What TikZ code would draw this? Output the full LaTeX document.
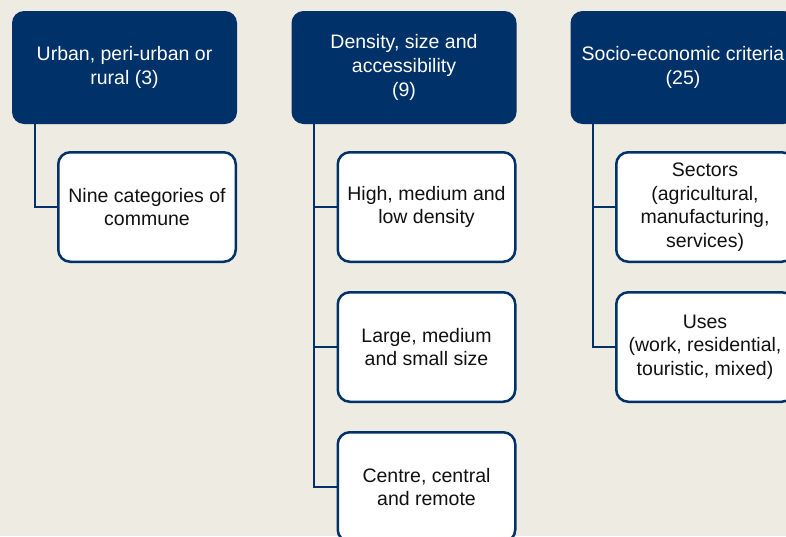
\documentclass[tikz,border=0pt]{standalone}
\usepackage{fontspec}
\setmainfont{Liberation Sans}
\definecolor{navy}{RGB}{0,49,104}
\definecolor{bgcol}{RGB}{238,235,226}
\definecolor{txt}{RGB}{17,17,17}
\begin{document}
\begin{tikzpicture}[x=1pt,y=-1pt,
  hdr/.style={rectangle, fill=navy, rounded corners=12pt, minimum width=225pt,
    minimum height=113pt, inner sep=0pt, text=white, align=center,
    font=\fontsize{19.5}{24}\selectfont},
  child/.style={rectangle, fill=white, draw=navy, line width=2.5pt, rounded corners=12pt,
    minimum width=177.5pt, minimum height=109.5pt, inner sep=0pt, text=txt, align=center,
    font=\fontsize{19.5}{23.5}\selectfont},
  conn/.style={draw=navy, line width=2.5pt}]
\useasboundingbox (0,0) rectangle (786,536);
\clip (0,0) rectangle (786,536);
\fill[bgcol] (0,0) rectangle (786,536);

% column 1
\coordinate (t1) at (35,124);
\node[hdr] (h1) at (124.5,67.5) {Urban, peri-urban or\\rural (3)};
\node[child] (c11) at (147,207) {Nine categories of\\commune};
\draw[conn] (t1) |- (c11.west);

% column 2
\coordinate (t2) at (314,124);
\node[hdr] (h2) at (404,67.5) {Density, size and\\accessibility\\(9)};
\node[child] (c21) at (426.5,207) {High, medium and\\low density};
\node[child] (c22) at (426.5,347) {Large, medium\\and small size};
\node[child] (c23) at (426.5,487) {Centre, central\\and remote};
\draw[conn] (t2) |- (c23.west);
\draw[conn] (t2) |- (c21.west);
\draw[conn] (t2) |- (c22.west);

% column 3
\coordinate (t3) at (593,124);
\node[hdr] (h3) at (683,67.5) {Socio-economic criteria\\(25)};
\node[child] (c31) at (705,207) {Sectors\\(agricultural,\\manufacturing,\\services)};
\node[child] (c32) at (705,347) {Uses\\(work, residential,\\touristic, mixed)};
\draw[conn] (t3) |- (c32.west);
\draw[conn] (t3) |- (c31.west);
\end{tikzpicture}
\end{document}
